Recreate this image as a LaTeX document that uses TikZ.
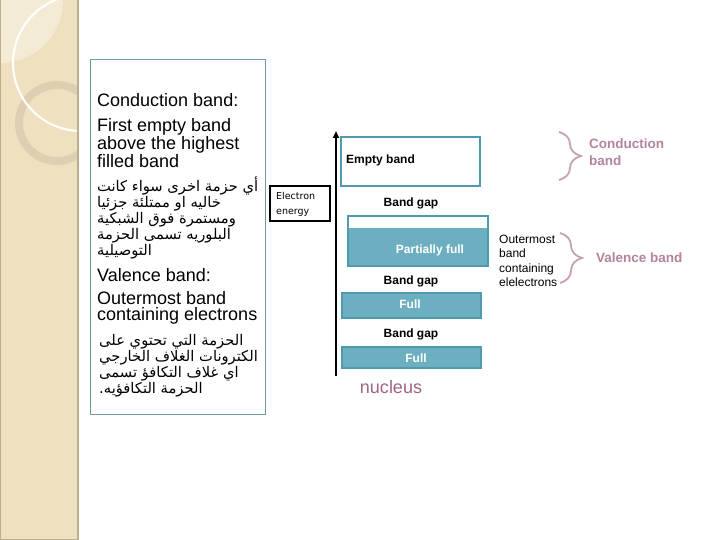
\documentclass[tikz,border=0pt]{standalone}
\usepackage{fontspec}
\setmainfont{Liberation Sans}
\newfontfamily\arabicfont[Script=Arabic]{DejaVu Sans}
\newfontfamily\dejavu{DejaVu Sans}
\TeXXeTstate=1
\usetikzlibrary{decorations.pathreplacing,arrows.meta}
\definecolor{tealf}{HTML}{6BAFC0}
\definecolor{tealb}{HTML}{4F9AAD}
\definecolor{mauve}{HTML}{B4849F}
\definecolor{bracec}{HTML}{C6A0B6}
\definecolor{nuc}{HTML}{A06585}
\definecolor{beige}{HTML}{EFE1C0}
\definecolor{ringc}{HTML}{DDD0B2}
\definecolor{stripedge}{HTML}{BCAE8C}
\definecolor{boxline}{HTML}{6E9AA5}
\tikzset{
  bigtxt/.style={inner sep=0pt, align=left, font=\fontsize{18}{15.5}\selectfont},
  artxt/.style={inner sep=0pt, align=left, font=\arabicfont\fontsize{14.7}{16}\selectfont},
  bandbox/.style={draw=tealb, line width=2pt, inner sep=0pt},
  fullbox/.style={bandbox, fill=tealf},
  gaplbl/.style={inner sep=0pt, font=\bfseries\fontsize{12}{14}\selectfont},
  whitelbl/.style={inner sep=0pt, text=white, font=\bfseries\fontsize{12}{14}\selectfont},
  bracepath/.style={draw=bracec, line width=1.8pt, decorate, decoration={brace, amplitude=22pt, aspect=0.5}},
  mauvelbl/.style={inner sep=0pt, text=mauve, align=left, font=\bfseries\fontsize{13.5}{17}\selectfont},
}
\begin{document}
\begin{tikzpicture}[x=1pt,y=-1pt]
\useasboundingbox (0,0) rectangle (720,540);
\fill[white] (0,0) rectangle (720,540);
% left decorative strip
\fill[beige] (0,0) rectangle (78,540);
\begin{scope}
  \clip (0,0) rectangle (78,540);
  \fill[white,opacity=0.35] (0,0) circle (63pt);
  \draw[ringc, line width=8pt] (57,123) circle (38pt);
  \draw[white, line width=2pt] (81,63) circle (68pt);
\end{scope}
\draw[stripedge, line width=1.5pt] (78,0) -- (78,540);
\draw[stripedge, line width=1pt] (0.5,0) -- (0.5,539.5) -- (78,539.5);

% text frame (base anchor of a multi-line node = its last line)
\draw[boxline, line width=1pt] (90,60) rectangle (265,414);
\node[bigtxt, anchor=base west] (cbt) at (97,106.5) {Conduction band:};
\node[bigtxt, anchor=base west] (fe) at (97,167.5) {First empty band\\above the highest\\filled band};
\node[artxt, anchor=base west] (ar1) at (97,255) {\beginR أي حزمة اخرى سواء كانت\endR\\\beginR خاليه او ممتلئة جزئيا\endR\\\beginR ومستمرة فوق الشبكية\endR\\\beginR البلوريه تسمى الحزمة\endR\\\beginR التوصيلية\endR};
\node[bigtxt, anchor=base west] (vbt) at (97,281) {Valence band:};
\node[bigtxt, anchor=base west, font=\fontsize{18}{16}\selectfont] (om) at (97,320) {Outermost band\\containing electrons};
\node[artxt, anchor=base west] (ar2) at (99,393) {\beginR الحزمة التي تحتوي على\endR\\\beginR الكترونات الغلاف الخارجي\endR\\\beginR اي غلاف التكافؤ تسمى\endR\\\beginR الحزمة التكافؤيه.\endR};

% energy axis
\coordinate (abot) at (336,376);
\coordinate (atop) at (336,131);
\draw[line width=2.5pt, -{Triangle[length=7pt,width=6pt]}] (abot) -- (atop);
\node[draw=black, line width=2pt, minimum width=60pt, minimum height=35pt, inner sep=0pt] (ee) at (300,203.5) {};
\node[anchor=west, inner sep=0pt, align=left, font=\dejavu\fontsize{9.5}{15}\selectfont] (eet) at (276,204.5) {Electron\\energy};

% bands
\node[bandbox, fill=white, minimum width=139pt, minimum height=49pt] (empty) at (410.5,161.5) {};
\node[gaplbl, anchor=west] (emptyl) at (346,160) {Empty band};
\node[gaplbl] (gap1) at (411,203) {Band gap};
\node[fullbox, minimum width=140pt, minimum height=50pt] (part) at (418,241) {};
\fill[white] (349,217) rectangle (487,228);
\node[whitelbl] (partl) at (430,250) {Partially full};
\node[gaplbl] (gap2) at (411,281) {Band gap};
\node[fullbox, minimum width=139pt, minimum height=25pt] (full1) at (411.5,305.5) {};
\node[whitelbl] (full1l) at (410,304) {Full};
\node[gaplbl] (gap3) at (411,334) {Band gap};
\node[fullbox, minimum width=139pt, minimum height=21pt] (full2) at (411.5,357.5) {};
\node[whitelbl] (full2l) at (416,358) {Full};
\node[inner sep=0pt, text=nuc, font=\fontsize{18}{20}\selectfont] (nucl) at (391,387) {nucleus};

% braces
\coordinate (cbtop) at (559,132);
\coordinate (cbbot) at (559,180);
\draw[bracepath] (cbtop) -- (cbbot);
\node[mauvelbl, anchor=west] (cblbl) at (589,152.5) {Conduction\\band};
\coordinate (vbtop) at (560,233);
\coordinate (vbbot) at (560,283);
\draw[bracepath] (vbtop) -- (vbbot);
\node[mauvelbl, anchor=west] (vblbl) at (596,258) {Valence band};
\node[anchor=west, inner sep=0pt, align=left, font=\fontsize{12}{14.5}\selectfont] (omr) at (499,261) {Outermost\\band\\containing\\elelectrons};
\end{tikzpicture}
\end{document}
